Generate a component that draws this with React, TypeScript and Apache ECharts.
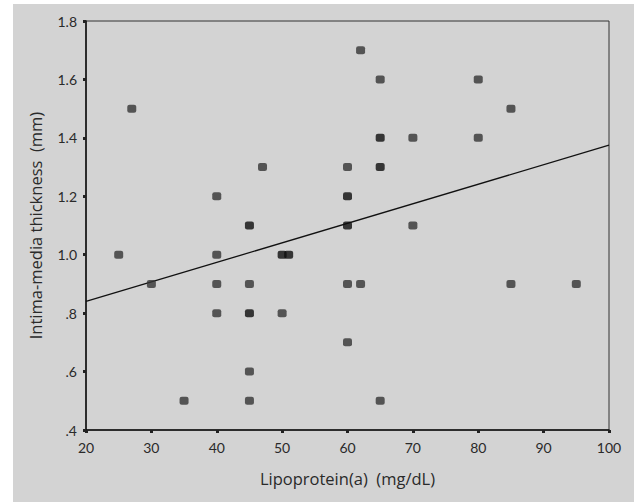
import React, { useEffect, useRef } from "react";
import * as echarts from "echarts";

// Lipoprotein(a) (mg/dL)
const ptsX = [25, 27, 30, 35, 40, 40, 40, 40, 45, 45, 45, 45, 45, 47, 50, 51, 50, 60, 60, 60, 60, 60, 62, 62, 65, 65, 65, 65, 70, 70, 80, 80, 85, 85, 95];
// Intima-media thickness (mm)
const ptsY = [1.0, 1.5, 0.9, 0.5, 1.2, 1.0, 0.9, 0.8, 1.1, 0.9, 0.8, 0.6, 0.5, 1.3, 1.0, 1.0, 0.8, 1.3, 1.2, 1.1, 0.9, 0.7, 1.7, 0.9, 1.6, 1.4, 1.3, 0.5, 1.4, 1.1, 1.6, 1.4, 1.5, 0.9, 0.9];
// number of overlapping cases at each point
const ptsN = [1, 1, 1, 1, 1, 1, 1, 1, 2, 1, 2, 1, 1, 1, 2, 2, 1, 1, 2, 2, 1, 1, 1, 1, 1, 2, 2, 1, 1, 1, 1, 1, 1, 1, 1];
// fitted regression line end points
const fitX = [20, 100];
const fitY = [0.84, 1.375];

const FONT = "Lato, 'Open Sans', sans-serif";
const TITLE_FONT = "'Open Sans', Lato, sans-serif";

export default function App() {
  const ref = useRef<HTMLDivElement>(null);
  useEffect(() => {
    if (!ref.current) return;
    const chart = echarts.init(ref.current, undefined, { renderer: "svg" });
    const scatterData = ptsX.map((x, i) => ({
      value: [x, ptsY[i]],
      itemStyle: { color: ptsN[i] > 1 ? "#0e0e0e" : "#353535" },
    }));
    chart.setOption({
      animation: false,
      backgroundColor: "#d3d3d3",
      grid: {
        left: 73,
        top: 17,
        right: 25,
        bottom: 72,
        show: true,
        borderColor: "#333",
        borderWidth: 1,
        backgroundColor: "#d3d3d3",
      },
      xAxis: {
        type: "value",
        min: 20,
        max: 100,
        interval: 10,
        name: "Lipoprotein(a)  (mg/dL)",
        nameLocation: "middle",
        nameGap: 40,
        nameTextStyle: { fontFamily: TITLE_FONT, fontSize: 16.5, color: "#2a2a2a" },
        axisLine: { show: true, lineStyle: { color: "#111", width: 1.5 } },
        axisTick: { show: true, length: 3, lineStyle: { color: "#222", width: 3 } },
        axisLabel: { fontFamily: FONT, fontSize: 14, color: "#2a2a2a", margin: 10 },
        splitLine: { show: false },
      },
      yAxis: {
        type: "value",
        min: 0.4,
        max: 1.8,
        interval: 0.2,
        name: "Intima-media thickness  (mm)",
        nameLocation: "middle",
        nameGap: 42,
        nameTextStyle: { fontFamily: TITLE_FONT, fontSize: 16.5, color: "#2a2a2a" },
        axisLine: { show: true, lineStyle: { color: "#111", width: 1.5 } },
        axisTick: { show: true, length: 3, lineStyle: { color: "#222", width: 3 } },
        axisLabel: {
          fontFamily: FONT,
          fontSize: 14,
          color: "#2a2a2a",
          margin: 9,
          formatter: (v: number) => {
            const s = v.toFixed(1);
            return s.startsWith("0") ? s.slice(1) : s;
          },
        },
        splitLine: { show: false },
      },
      series: [
        {
          type: "line",
          data: fitX.map((x, i) => [x, fitY[i]]),
          symbol: "none",
          lineStyle: { color: "#111", width: 1.3 },
          z: 3,
        },
        {
          type: "scatter",
          data: scatterData,
          symbol: "roundRect",
          symbolSize: [9, 8],
          z: 4,
        },
      ],
    });
    return () => chart.dispose();
  }, []);
  return (
    <div style={{ position: "absolute", left: 0, top: 0, width: 634, height: 502, background: "#fff" }}>
      <div ref={ref} style={{ position: "absolute", left: 13, top: 4, width: 621, height: 498 }} />
    </div>
  );
}
